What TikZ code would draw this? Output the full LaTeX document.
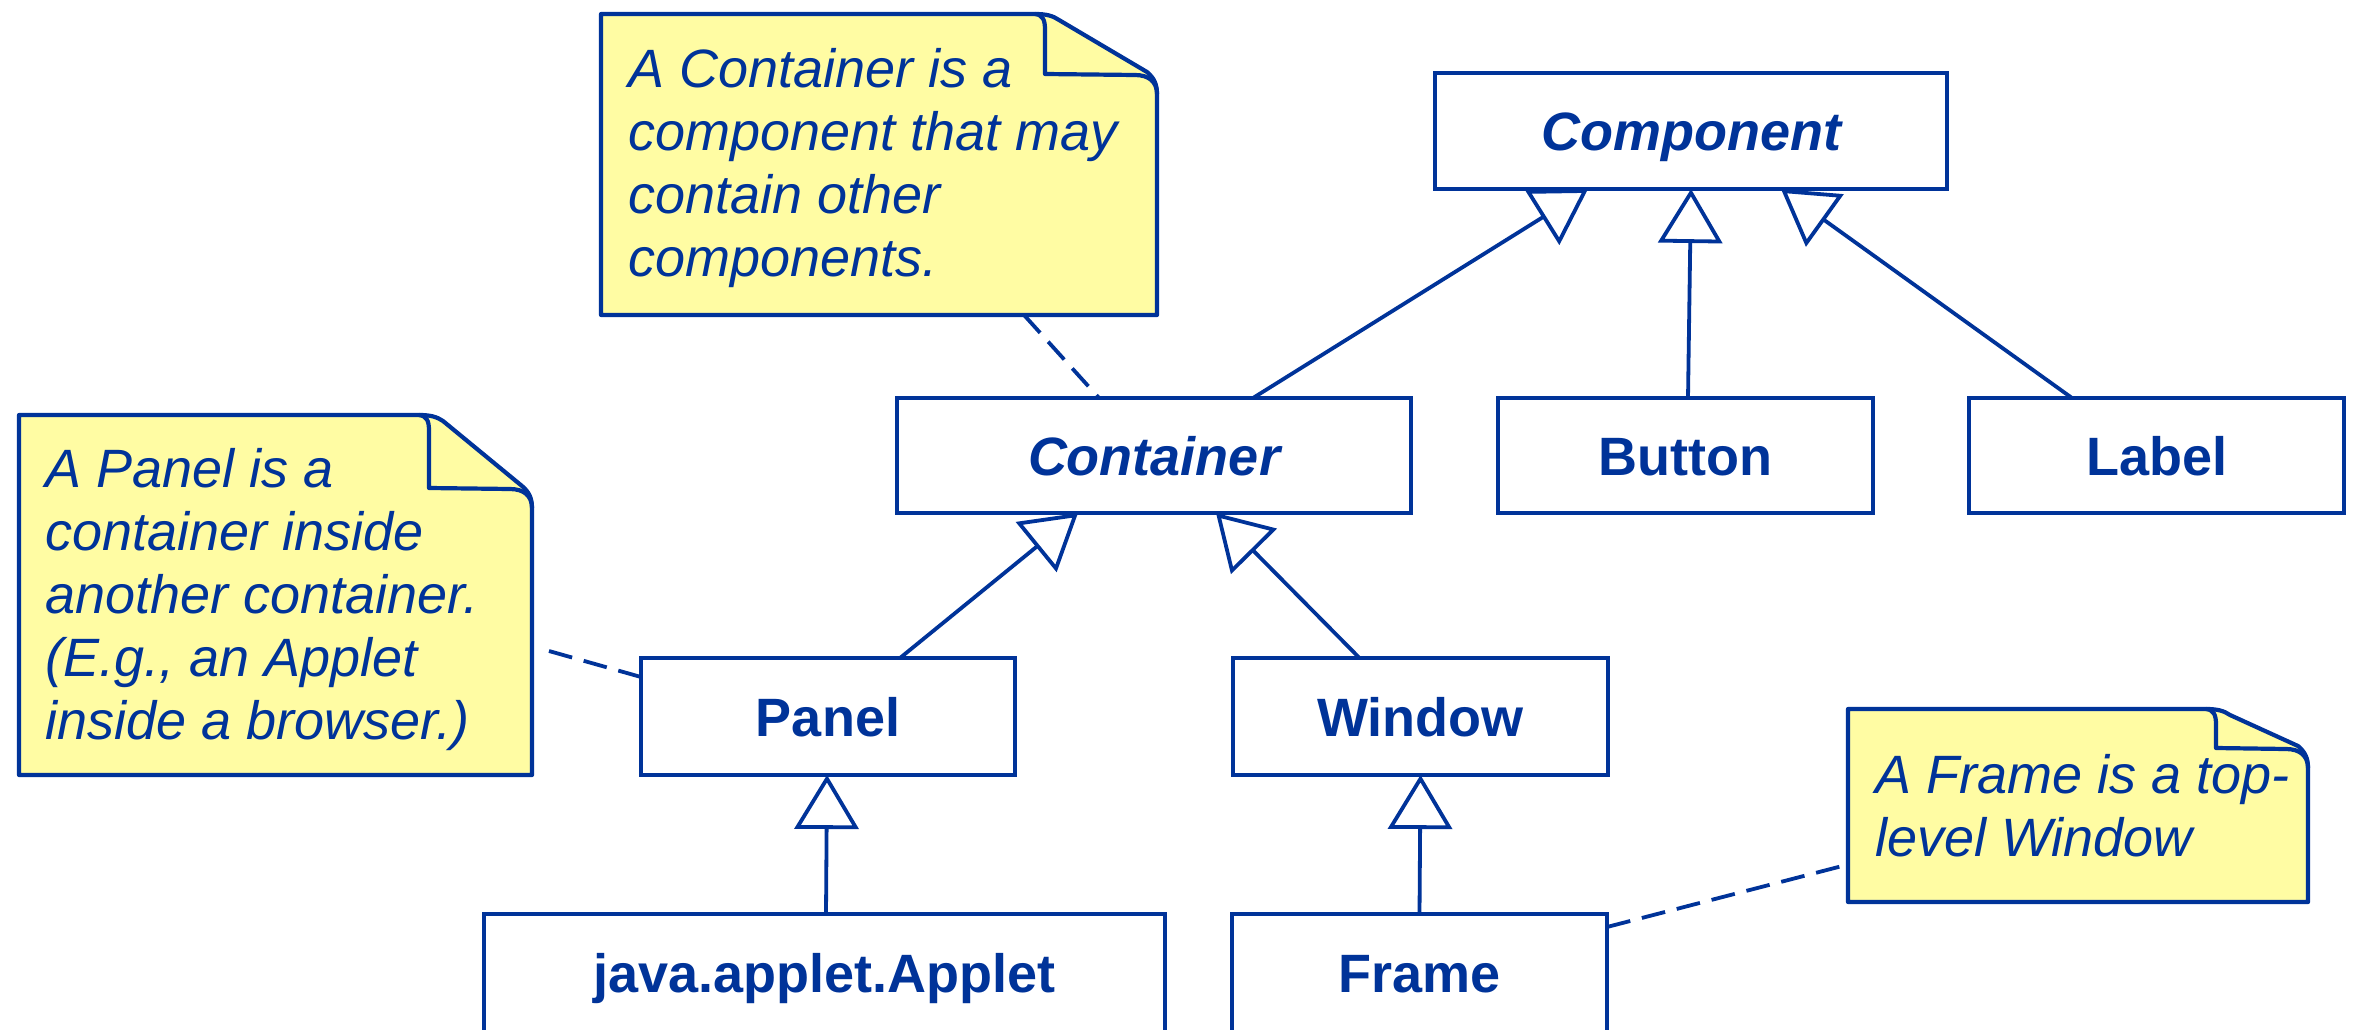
\documentclass[tikz,border=0pt]{standalone}
\usepackage{fontspec}
\setmainfont{Liberation Sans}
\usetikzlibrary{arrows.meta,calc}
\definecolor{umlblue}{RGB}{0,51,153}
\definecolor{noteyellow}{RGB}{255,252,163}

\tikzset{
  cls/.style={draw=umlblue, line width=4.3pt, inner sep=0pt, outer sep=0pt, text=umlblue,
    font=\fontsize{54pt}{63pt}\selectfont\bfseries, text height=39pt, text depth=0pt},
  abstractcls/.style={cls, font=\fontsize{54pt}{63pt}\selectfont\bfseries\itshape},
  notebody/.style={inner sep=0pt, outer sep=0pt},
  notebox/.style={fill=noteyellow, draw=umlblue, line width=4.2pt, line join=round},
  notefold/.style={draw=umlblue, line width=4.2pt, line join=round},
  notetext/.style={text=umlblue, font=\fontsize{54pt}{63pt}\selectfont\itshape,
    inner sep=0pt, anchor=base west},
  gen/.style={draw=umlblue, line width=3.8pt, -{Triangle[open, length=54pt, width=64pt]}},
  anchorline/.style={draw=umlblue, line width=3.8pt, dash pattern=on 24pt off 12pt},
}

% #1 node, #2 fold width, #3 fold height
\newcommand{\DogEar}[3]{%
  \path[notebox] let \p1=(#1.north west), \p2=(#1.south east) in
    (\x1,\y1) -- (\x2-#2-10pt,\y1)
    .. controls (\x2-#2+2pt,\y1) and (\x2-#2+8pt,\y1-2pt) .. (\x2-#2+14pt,\y1-6pt)
    -- (\x2-10pt,\y1-#3+2pt)
    .. controls (\x2-3pt,\y1-#3-4pt) and (\x2,\y1-#3-10pt) .. (\x2,\y1-#3-20pt)
    -- (\x2,\y2) -- (\x1,\y2) -- cycle;
  \draw[notefold] let \p1=(#1.north west), \p2=(#1.south east) in
    (\x2-#2-10pt,\y1) .. controls (\x2-#2-2pt,\y1-1pt) and (\x2-#2,\y1-6pt) .. (\x2-#2,\y1-16pt)
    -- (\x2-#2,\y1-#3)
    -- (\x2-22pt,\y1-#3-1pt)
    .. controls (\x2-8pt,\y1-#3-1pt) and (\x2,\y1-#3-8pt) .. (\x2,\y1-#3-20pt);
}

\begin{document}
\begin{tikzpicture}[x=1pt, y=-1pt]
\useasboundingbox (0,0) rectangle (2353,1030);
\clip (0,0) rectangle (2353,1030);

% notes
\node[notebody, minimum width=556pt, minimum height=301pt] (cnote) at (879,164.5) {};
\DogEar{cnote}{112pt}{60pt}
\node[notetext] (cnotetext) at ([shift={(27pt,-74pt)}]cnote.north west)
  {\parbox[t]{600pt}{\raggedright A Container is a\\component that may\\contain other\\components.}};

\node[notebody, minimum width=513pt, minimum height=360pt] (pnote) at (275.5,595) {};
\DogEar{pnote}{103pt}{73pt}
\node[notetext] (pnotetext) at ([shift={(26pt,-72pt)}]pnote.north west)
  {\parbox[t]{600pt}{\raggedright A Panel is a\\container inside\\another container.\\(E.g., an Applet\\inside a browser.)}};

\node[notebody, minimum width=460pt, minimum height=193pt] (fnote) at (2078,805.5) {};
\DogEar{fnote}{92pt}{39pt}
\node[notetext] (fnotetext) at ([shift={(27pt,-84pt)}]fnote.north west)
  {\parbox[t]{600pt}{\raggedright A Frame is a top-\\level Window}};

% classes
\node[abstractcls, minimum width=512pt, minimum height=116pt] (component) at (1691,131) {Component};
\node[abstractcls, minimum width=514pt, minimum height=115pt] (container) at (1154,455.5) {Container};
\node[cls, minimum width=375pt, minimum height=115pt] (button) at (1685.5,455.5) {Button};
\node[cls, minimum width=375pt, minimum height=115pt] (label) at (2156.5,455.5) {Label};
\node[cls, minimum width=374pt, minimum height=117pt] (panel) at (828,716.5) {Panel};
\node[cls, minimum width=375pt, minimum height=117pt] (window) at (1420.5,716.5) {Window};
\node[cls, minimum width=681pt, minimum height=126pt, text depth=8pt] (applet) at (824.5,977) {java.applet.Applet};
\node[cls, minimum width=375pt, minimum height=126pt, text depth=8pt] (frame) at (1419.5,977) {Frame};

% generalizations
\draw[gen] ([xshift=99pt]container.north) -- ([xshift=-103pt]component.south);
\draw[gen] ([xshift=2.5pt]button.north) -- (component.south);
\draw[gen] ([xshift=-84.5pt]label.north) -- ([xshift=90pt]component.south);
\draw[gen] ([xshift=72pt]panel.north) -- ([xshift=-76pt]container.south);
\draw[gen] ([xshift=-61pt]window.north) -- ([xshift=62pt]container.south);
\draw[gen] ([xshift=1.5pt]applet.north) -- ([xshift=-1pt]panel.south);
\draw[gen] (frame.north) -- (window.south);

% note anchors
\draw[anchorline] ([xshift=145pt]cnote.south) -- ([xshift=-55pt]container.north);
\draw[anchorline] ([shift={(17pt,-56pt)}]pnote.east) -- ([yshift=39.5pt]panel.west);
\draw[anchorline] ([yshift=50pt]frame.east) -- ([yshift=-59pt]fnote.west);
\end{tikzpicture}
\end{document}
